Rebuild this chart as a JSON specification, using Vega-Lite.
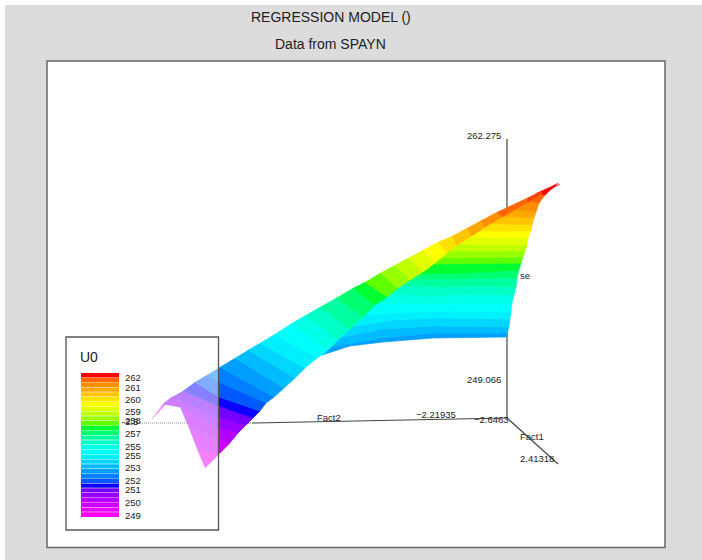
{"$schema":"https://vega.github.io/schema/vega-lite/v6.json","width":702,"height":560,"padding":0,"autosize":{"type":"fit","contains":"padding"},"background":"white","config":{"view":{"stroke":null}},
"encoding":{"x":{"field":"u","type":"quantitative","scale":{"domain":[0,702],"nice":false,"zero":false},"axis":null},"y":{"field":"v","type":"quantitative","scale":{"domain":[560,0],"nice":false,"zero":false},"axis":null}},
"layer":[
{"data":{"values":[{"u":5,"u2":702,"v":5,"v2":560}]},"mark":{"type":"rect","fill":"#dcdcdc"},"encoding":{"x2":{"field":"u2"},"y2":{"field":"v2"}}},
{"data":{"values":[{"u":47,"u2":665,"v":61,"v2":547.5}]},"mark":{"type":"rect","fill":"white","stroke":"#666666","strokeWidth":1.5},"encoding":{"x2":{"field":"u2"},"y2":{"field":"v2"}}},
{"data":{"values":[{"u":507,"u2":507,"v":139,"v2":418},{"u":507,"u2":253,"v":418,"v2":423},{"u":507,"u2":558,"v":418,"v2":464}]},"mark":{"type":"rule","stroke":"#444444","strokeWidth":1.2},"encoding":{"x2":{"field":"u2"},"y2":{"field":"v2"}}},
{"data":{"values":[{"u":253,"u2":122,"v":423,"v2":423}]},"mark":{"type":"rule","stroke":"#333333","strokeWidth":1,"strokeDash":[1,1]},"encoding":{"x2":{"field":"u2"},"y2":{"field":"v2"}}},
{"name":"sheet","data":{"values":[
{"b":"s9","level":253.03,"o":1,"u":322,"v":355},{"b":"s9","level":253.03,"o":2,"u":350,"v":346},{"b":"s9","level":253.03,"o":3,"u":383,"v":342},{"b":"s9","level":253.03,"o":4,"u":433,"v":338},{"b":"s9","level":253.03,"o":5,"u":507,"v":337},{"b":"s9","level":253.03,"o":6,"u":507,"v":333},{"b":"s9","level":253.03,"o":7,"u":433,"v":333},{"b":"s9","level":253.03,"o":8,"u":383,"v":338},{"b":"s9","level":253.03,"o":9,"u":330,"v":347},
{"b":"s10","level":253.48,"o":1,"u":330,"v":347},{"b":"s10","level":253.48,"o":2,"u":383,"v":338},{"b":"s10","level":253.48,"o":3,"u":433,"v":333},{"b":"s10","level":253.48,"o":4,"u":507,"v":333},{"b":"s10","level":253.48,"o":5,"u":509,"v":327},{"b":"s10","level":253.48,"o":6,"u":433,"v":326},{"b":"s10","level":253.48,"o":7,"u":383,"v":329},{"b":"s10","level":253.48,"o":8,"u":338,"v":338},
{"b":"s11","level":253.93,"o":1,"u":338,"v":338},{"b":"s11","level":253.93,"o":2,"u":383,"v":329},{"b":"s11","level":253.93,"o":3,"u":433,"v":326},{"b":"s11","level":253.93,"o":4,"u":509,"v":327},{"b":"s11","level":253.93,"o":5,"u":510,"v":319},{"b":"s11","level":253.93,"o":6,"u":440,"v":318},{"b":"s11","level":253.93,"o":7,"u":393,"v":320},{"b":"s11","level":253.93,"o":8,"u":350,"v":327},
{"b":"s12","level":254.38,"o":1,"u":350,"v":327},{"b":"s12","level":254.38,"o":2,"u":393,"v":320},{"b":"s12","level":254.38,"o":3,"u":440,"v":318},{"b":"s12","level":254.38,"o":4,"u":510,"v":319},{"b":"s12","level":254.38,"o":5,"u":511,"v":312},{"b":"s12","level":254.38,"o":6,"u":450,"v":311},{"b":"s12","level":254.38,"o":7,"u":407,"v":312},{"b":"s12","level":254.38,"o":8,"u":361,"v":315},
{"b":"s13","level":254.83,"o":1,"u":361,"v":315},{"b":"s13","level":254.83,"o":2,"u":407,"v":312},{"b":"s13","level":254.83,"o":3,"u":450,"v":311},{"b":"s13","level":254.83,"o":4,"u":511,"v":312},{"b":"s13","level":254.83,"o":5,"u":512,"v":303},{"b":"s13","level":254.83,"o":6,"u":460,"v":303},{"b":"s13","level":254.83,"o":7,"u":417,"v":304},{"b":"s13","level":254.83,"o":8,"u":374,"v":303},
{"b":"s14","level":255.27,"o":1,"u":374,"v":303},{"b":"s14","level":255.27,"o":2,"u":417,"v":304},{"b":"s14","level":255.27,"o":3,"u":460,"v":303},{"b":"s14","level":255.27,"o":4,"u":512,"v":303},{"b":"s14","level":255.27,"o":5,"u":514,"v":295},{"b":"s14","level":255.27,"o":6,"u":467,"v":294},{"b":"s14","level":255.27,"o":7,"u":427,"v":296},{"b":"s14","level":255.27,"o":8,"u":387,"v":293},
{"b":"s15","level":255.72,"o":1,"u":387,"v":293},{"b":"s15","level":255.72,"o":2,"u":427,"v":296},{"b":"s15","level":255.72,"o":3,"u":467,"v":294},{"b":"s15","level":255.72,"o":4,"u":514,"v":295},{"b":"s15","level":255.72,"o":5,"u":516,"v":287},{"b":"s15","level":255.72,"o":6,"u":477,"v":286},{"b":"s15","level":255.72,"o":7,"u":440,"v":287},{"b":"s15","level":255.72,"o":8,"u":400,"v":285},
{"b":"s16","level":256.17,"o":1,"u":400,"v":285},{"b":"s16","level":256.17,"o":2,"u":440,"v":287},{"b":"s16","level":256.17,"o":3,"u":477,"v":286},{"b":"s16","level":256.17,"o":4,"u":516,"v":287},{"b":"s16","level":256.17,"o":5,"u":517,"v":278},{"b":"s16","level":256.17,"o":6,"u":487,"v":278},{"b":"s16","level":256.17,"o":7,"u":450,"v":279},{"b":"s16","level":256.17,"o":8,"u":408,"v":279},
{"b":"s17","level":256.62,"o":1,"u":408,"v":279},{"b":"s17","level":256.62,"o":2,"u":450,"v":279},{"b":"s17","level":256.62,"o":3,"u":487,"v":278},{"b":"s17","level":256.62,"o":4,"u":517,"v":278},{"b":"s17","level":256.62,"o":5,"u":519,"v":270},{"b":"s17","level":256.62,"o":6,"u":467,"v":273},{"b":"s17","level":256.62,"o":7,"u":415,"v":274},
{"b":"s18","level":257.07,"o":1,"u":415,"v":274},{"b":"s18","level":257.07,"o":2,"u":467,"v":273},{"b":"s18","level":257.07,"o":3,"u":519,"v":270},{"b":"s18","level":257.07,"o":4,"u":521,"v":263},{"b":"s18","level":257.07,"o":5,"u":430,"v":264},
{"b":"s19","level":257.52,"o":1,"u":430,"v":264},{"b":"s19","level":257.52,"o":2,"u":521,"v":263},{"b":"s19","level":257.52,"o":3,"u":523,"v":257},{"b":"s19","level":257.52,"o":4,"u":436,"v":258},
{"b":"s20","level":257.97,"o":1,"u":436,"v":258},{"b":"s20","level":257.97,"o":2,"u":523,"v":257},{"b":"s20","level":257.97,"o":3,"u":525,"v":251},{"b":"s20","level":257.97,"o":4,"u":446,"v":251},
{"b":"s21","level":258.41,"o":1,"u":446,"v":251},{"b":"s21","level":258.41,"o":2,"u":525,"v":251},{"b":"s21","level":258.41,"o":3,"u":527,"v":245},{"b":"s21","level":258.41,"o":4,"u":455,"v":244},
{"b":"s22","level":258.86,"o":1,"u":455,"v":244},{"b":"s22","level":258.86,"o":2,"u":527,"v":245},{"b":"s22","level":258.86,"o":3,"u":528,"v":238},{"b":"s22","level":258.86,"o":4,"u":465,"v":237},
{"b":"s23","level":259.31,"o":1,"u":465,"v":237},{"b":"s23","level":259.31,"o":2,"u":528,"v":238},{"b":"s23","level":259.31,"o":3,"u":531,"v":231},{"b":"s23","level":259.31,"o":4,"u":475,"v":231},
{"b":"s24","level":259.76,"o":1,"u":475,"v":231},{"b":"s24","level":259.76,"o":2,"u":531,"v":231},{"b":"s24","level":259.76,"o":3,"u":532,"v":225},{"b":"s24","level":259.76,"o":4,"u":486,"v":223},
{"b":"s25","level":260.21,"o":1,"u":486,"v":223},{"b":"s25","level":260.21,"o":2,"u":532,"v":225},{"b":"s25","level":260.21,"o":3,"u":534,"v":218},{"b":"s25","level":260.21,"o":4,"u":498,"v":216},
{"b":"s26","level":260.66,"o":1,"u":498,"v":216},{"b":"s26","level":260.66,"o":2,"u":534,"v":218},{"b":"s26","level":260.66,"o":3,"u":536,"v":212},{"b":"s26","level":260.66,"o":4,"u":510,"v":209},
{"b":"s27","level":261.10,"o":1,"u":510,"v":209},{"b":"s27","level":261.10,"o":2,"u":536,"v":212},{"b":"s27","level":261.10,"o":3,"u":539,"v":203},{"b":"s27","level":261.10,"o":4,"u":525,"v":201},
{"b":"s28","level":261.55,"o":1,"u":525,"v":201},{"b":"s28","level":261.55,"o":2,"u":539,"v":203},{"b":"s28","level":261.55,"o":3,"u":545,"v":195},{"b":"s28","level":261.55,"o":4,"u":537,"v":193},
{"b":"s29","level":262.0,"o":1,"u":537,"v":193},{"b":"s29","level":262.0,"o":2,"u":545,"v":195},{"b":"s29","level":262.0,"o":3,"u":558,"v":183}
]},"mark":{"type":"line","filled":true,"strokeWidth":0.7,"interpolate":"linear"},"encoding":{"detail":{"field":"b"},"order":{"field":"o"},"fill":{"field":"level","type":"quantitative","scale":{"domain":[249,251.3,251.7,252.2,254.7,257.2,259.3,261.3,262],"range":["#ff00ff","#7000ff","#0000ff","#0060ff","#00ffff","#00ff00","#ffff00","#ff8000","#ff0000"]},"legend":null},"stroke":{"field":"level","type":"quantitative","scale":{"domain":[249,251.3,251.7,252.2,254.7,257.2,259.3,261.3,262],"range":["#ff00ff","#7000ff","#0000ff","#0060ff","#00ffff","#00ff00","#ffff00","#ff8000","#ff0000"]},"legend":null}}},
{"name":"strip","data":{"values":[
{"b":"e1","level":249.45,"o":1,"u":152,"v":419},{"b":"e1","level":249.45,"o":2,"u":172,"v":397},{"b":"e1","level":249.45,"o":3,"u":163,"v":404},
{"b":"t1","level":249.45,"o":1,"u":197,"v":449},{"b":"t1","level":249.45,"o":2,"u":219,"v":454},{"b":"t1","level":249.45,"o":3,"u":205,"v":468},
{"b":"t2","level":249.90,"o":1,"u":189,"v":428},{"b":"t2","level":249.90,"o":2,"u":219,"v":439},{"b":"t2","level":249.90,"o":3,"u":229,"v":444},{"b":"t2","level":249.90,"o":4,"u":219,"v":454},{"b":"t2","level":249.90,"o":5,"u":197,"v":449},
{"b":"t3","level":250.34,"o":1,"u":180,"v":407},{"b":"t3","level":250.34,"o":2,"u":219,"v":428},{"b":"t3","level":250.34,"o":3,"u":238,"v":433},{"b":"t3","level":250.34,"o":4,"u":229,"v":444},{"b":"t3","level":250.34,"o":5,"u":219,"v":439},{"b":"t3","level":250.34,"o":6,"u":189,"v":428},
{"b":"t4","level":250.79,"o":1,"u":172,"v":397},{"b":"t4","level":250.79,"o":2,"u":219,"v":417},{"b":"t4","level":250.79,"o":3,"u":246,"v":425},{"b":"t4","level":250.79,"o":4,"u":238,"v":433},{"b":"t4","level":250.79,"o":5,"u":219,"v":428},{"b":"t4","level":250.79,"o":6,"u":180,"v":407},{"b":"t4","level":250.79,"o":7,"u":163,"v":404},
{"b":"t5","level":251.24,"o":1,"u":183,"v":391},{"b":"t5","level":251.24,"o":2,"u":219,"v":406},{"b":"t5","level":251.24,"o":3,"u":253,"v":418},{"b":"t5","level":251.24,"o":4,"u":246,"v":425},{"b":"t5","level":251.24,"o":5,"u":219,"v":417},{"b":"t5","level":251.24,"o":6,"u":172,"v":397},
{"b":"t6","level":251.69,"o":1,"u":183,"v":391},{"b":"t6","level":251.69,"o":2,"u":219,"v":406},{"b":"t6","level":251.69,"o":3,"u":253,"v":418},{"b":"t6","level":251.69,"o":4,"u":260,"v":411},{"b":"t6","level":251.69,"o":5,"u":219,"v":397},{"b":"t6","level":251.69,"o":6,"u":195,"v":382},
{"b":"t7","level":252.14,"o":1,"u":195,"v":382},{"b":"t7","level":252.14,"o":2,"u":219,"v":397},{"b":"t7","level":252.14,"o":3,"u":260,"v":411},{"b":"t7","level":252.14,"o":4,"u":266,"v":403},{"b":"t7","level":252.14,"o":5,"u":219,"v":382},{"b":"t7","level":252.14,"o":6,"u":207,"v":375},
{"b":"t8","level":252.59,"o":1,"u":207,"v":375},{"b":"t8","level":252.59,"o":2,"u":219,"v":382},{"b":"t8","level":252.59,"o":3,"u":266,"v":403},{"b":"t8","level":252.59,"o":4,"u":274,"v":397},{"b":"t8","level":252.59,"o":5,"u":220,"v":367},
{"b":"t9","level":253.03,"o":1,"u":220,"v":367},{"b":"t9","level":253.03,"o":2,"u":274,"v":397},{"b":"t9","level":253.03,"o":3,"u":284,"v":388},{"b":"t9","level":253.03,"o":4,"u":235,"v":358},
{"b":"t10","level":253.48,"o":1,"u":235,"v":358},{"b":"t10","level":253.48,"o":2,"u":284,"v":388},{"b":"t10","level":253.48,"o":3,"u":295,"v":378},{"b":"t10","level":253.48,"o":4,"u":248,"v":350},
{"b":"t11","level":253.93,"o":1,"u":248,"v":350},{"b":"t11","level":253.93,"o":2,"u":295,"v":378},{"b":"t11","level":253.93,"o":3,"u":305,"v":368},{"b":"t11","level":253.93,"o":4,"u":260,"v":343},
{"b":"t12","level":254.38,"o":1,"u":260,"v":343},{"b":"t12","level":254.38,"o":2,"u":305,"v":368},{"b":"t12","level":254.38,"o":3,"u":317,"v":358},{"b":"t12","level":254.38,"o":4,"u":275,"v":334},
{"b":"t13","level":254.83,"o":1,"u":275,"v":334},{"b":"t13","level":254.83,"o":2,"u":317,"v":358},{"b":"t13","level":254.83,"o":3,"u":322,"v":355},{"b":"t13","level":254.83,"o":4,"u":328,"v":350},{"b":"t13","level":254.83,"o":5,"u":292,"v":323},
{"b":"t14","level":255.27,"o":1,"u":292,"v":323},{"b":"t14","level":255.27,"o":2,"u":328,"v":350},{"b":"t14","level":255.27,"o":3,"u":338,"v":340},{"b":"t14","level":255.27,"o":4,"u":306,"v":315},
{"b":"t15","level":255.72,"o":1,"u":306,"v":315},{"b":"t15","level":255.72,"o":2,"u":338,"v":340},{"b":"t15","level":255.72,"o":3,"u":350,"v":329},{"b":"t15","level":255.72,"o":4,"u":320,"v":307},
{"b":"t16","level":256.17,"o":1,"u":320,"v":307},{"b":"t16","level":256.17,"o":2,"u":350,"v":329},{"b":"t16","level":256.17,"o":3,"u":363,"v":317},{"b":"t16","level":256.17,"o":4,"u":336,"v":298},
{"b":"t17","level":256.62,"o":1,"u":336,"v":298},{"b":"t17","level":256.62,"o":2,"u":363,"v":317},{"b":"t17","level":256.62,"o":3,"u":375,"v":305},{"b":"t17","level":256.62,"o":4,"u":353,"v":288},
{"b":"t18","level":257.07,"o":1,"u":353,"v":288},{"b":"t18","level":257.07,"o":2,"u":375,"v":305},{"b":"t18","level":257.07,"o":3,"u":387,"v":297},{"b":"t18","level":257.07,"o":4,"u":365,"v":282},
{"b":"t19","level":257.52,"o":1,"u":365,"v":282},{"b":"t19","level":257.52,"o":2,"u":387,"v":297},{"b":"t19","level":257.52,"o":3,"u":398,"v":288},{"b":"t19","level":257.52,"o":4,"u":380,"v":273},
{"b":"t20","level":257.97,"o":1,"u":380,"v":273},{"b":"t20","level":257.97,"o":2,"u":398,"v":288},{"b":"t20","level":257.97,"o":3,"u":410,"v":280},{"b":"t20","level":257.97,"o":4,"u":395,"v":265},
{"b":"t21","level":258.41,"o":1,"u":395,"v":265},{"b":"t21","level":258.41,"o":2,"u":410,"v":280},{"b":"t21","level":258.41,"o":3,"u":423,"v":272},{"b":"t21","level":258.41,"o":4,"u":408,"v":258},
{"b":"t22","level":258.86,"o":1,"u":408,"v":258},{"b":"t22","level":258.86,"o":2,"u":423,"v":272},{"b":"t22","level":258.86,"o":3,"u":435,"v":263},{"b":"t22","level":258.86,"o":4,"u":423,"v":250},
{"b":"t23","level":259.31,"o":1,"u":423,"v":250},{"b":"t23","level":259.31,"o":2,"u":435,"v":263},{"b":"t23","level":259.31,"o":3,"u":447,"v":253},{"b":"t23","level":259.31,"o":4,"u":438,"v":242},
{"b":"t24","level":259.76,"o":1,"u":438,"v":242},{"b":"t24","level":259.76,"o":2,"u":447,"v":253},{"b":"t24","level":259.76,"o":3,"u":457,"v":245},{"b":"t24","level":259.76,"o":4,"u":452,"v":236},
{"b":"t25","level":260.21,"o":1,"u":452,"v":236},{"b":"t25","level":260.21,"o":2,"u":457,"v":245},{"b":"t25","level":260.21,"o":3,"u":472,"v":236},{"b":"t25","level":260.21,"o":4,"u":467,"v":228},
{"b":"t26","level":260.66,"o":1,"u":467,"v":228},{"b":"t26","level":260.66,"o":2,"u":472,"v":236},{"b":"t26","level":260.66,"o":3,"u":485,"v":227},{"b":"t26","level":260.66,"o":4,"u":480,"v":221},
{"b":"t27","level":261.10,"o":1,"u":480,"v":221},{"b":"t27","level":261.10,"o":2,"u":485,"v":227},{"b":"t27","level":261.10,"o":3,"u":502,"v":217},{"b":"t27","level":261.10,"o":4,"u":497,"v":212},
{"b":"t28","level":261.55,"o":1,"u":497,"v":212},{"b":"t28","level":261.55,"o":2,"u":502,"v":217},{"b":"t28","level":261.55,"o":3,"u":528,"v":202},{"b":"t28","level":261.55,"o":4,"u":527,"v":198},
{"b":"t29","level":261.8,"o":1,"u":527,"v":198},{"b":"t29","level":261.8,"o":2,"u":528,"v":202},{"b":"t29","level":261.8,"o":3,"u":543,"v":193},{"b":"t29","level":261.8,"o":4,"u":541,"v":191},
{"b":"t30","level":262.0,"o":1,"u":541,"v":191},{"b":"t30","level":262.0,"o":2,"u":543,"v":193},{"b":"t30","level":262.0,"o":3,"u":560,"v":184}
]},"mark":{"type":"line","filled":true,"strokeWidth":0.7,"interpolate":"linear"},"encoding":{"detail":{"field":"b"},"order":{"field":"o"},"fill":{"field":"level","type":"quantitative","scale":{"domain":[249,251.3,251.7,252.2,254.7,257.2,259.3,261.3,262],"range":["#ff00ff","#7000ff","#0000ff","#0060ff","#00ffff","#00ff00","#ffff00","#ff8000","#ff0000"]},"legend":null},"stroke":{"field":"level","type":"quantitative","scale":{"domain":[249,251.3,251.7,252.2,254.7,257.2,259.3,261.3,262],"range":["#ff00ff","#7000ff","#0000ff","#0060ff","#00ffff","#00ff00","#ffff00","#ff8000","#ff0000"]},"legend":null}}},
{"data":{"values":[{"u":66,"u2":218.5,"v":337,"v2":530}]},"mark":{"type":"rect","fill":"white","fillOpacity":0.5,"stroke":"#555555","strokeWidth":1.3},"encoding":{"x2":{"field":"u2"},"y2":{"field":"v2"}}},
{"data":{"values":[
{"level":262.0,"u":81,"u2":119,"v":373,"v2":377.4},{"level":261.55,"u":81,"u2":119,"v":377.8,"v2":382.2},{"level":261.10,"u":81,"u2":119,"v":382.6,"v2":387},{"level":260.66,"u":81,"u2":119,"v":387.4,"v2":391.8},{"level":260.21,"u":81,"u2":119,"v":392.2,"v2":396.6},{"level":259.76,"u":81,"u2":119,"v":397,"v2":401.4},{"level":259.31,"u":81,"u2":119,"v":401.8,"v2":406.2},{"level":258.86,"u":81,"u2":119,"v":406.6,"v2":411},{"level":258.41,"u":81,"u2":119,"v":411.4,"v2":415.8},{"level":257.97,"u":81,"u2":119,"v":416.2,"v2":420.6},{"level":257.52,"u":81,"u2":119,"v":421,"v2":425.4},{"level":257.07,"u":81,"u2":119,"v":425.8,"v2":430.2},{"level":256.62,"u":81,"u2":119,"v":430.6,"v2":435},{"level":256.17,"u":81,"u2":119,"v":435.4,"v2":439.8},{"level":255.72,"u":81,"u2":119,"v":440.2,"v2":444.6},{"level":255.27,"u":81,"u2":119,"v":445,"v2":449.4},{"level":254.83,"u":81,"u2":119,"v":449.8,"v2":454.2},{"level":254.38,"u":81,"u2":119,"v":454.6,"v2":459},{"level":253.93,"u":81,"u2":119,"v":459.4,"v2":463.8},{"level":253.48,"u":81,"u2":119,"v":464.2,"v2":468.6},{"level":253.03,"u":81,"u2":119,"v":469,"v2":473.4},{"level":252.59,"u":81,"u2":119,"v":473.8,"v2":478.2},{"level":252.14,"u":81,"u2":119,"v":478.6,"v2":483},{"level":251.69,"u":81,"u2":119,"v":483.4,"v2":487.8},{"level":251.24,"u":81,"u2":119,"v":488.2,"v2":492.6},{"level":250.79,"u":81,"u2":119,"v":493,"v2":497.4},{"level":250.34,"u":81,"u2":119,"v":497.8,"v2":502.2},{"level":249.90,"u":81,"u2":119,"v":502.6,"v2":507},{"level":249.45,"u":81,"u2":119,"v":507.4,"v2":511.8},{"level":249.0,"u":81,"u2":119,"v":512.2,"v2":517}
]},"mark":{"type":"rect"},"encoding":{"x2":{"field":"u2"},"y2":{"field":"v2"},"fill":{"field":"level","type":"quantitative","scale":{"domain":[249,251.3,251.7,252.2,254.7,257.2,259.3,261.3,262],"range":["#ff00ff","#7000ff","#0000ff","#0060ff","#00ffff","#00ff00","#ffff00","#ff8000","#ff0000"]},"legend":null}}},
{"data":{"values":[{"u":251,"v":18,"t":"REGRESSION MODEL ()"},{"u":275,"v":45,"t":"Data from SPAYN"},{"u":80,"v":358,"t":"U0"}]},"mark":{"type":"text","font":"Liberation Sans","fontSize":14,"align":"left","baseline":"middle","fill":"#222222"},"encoding":{"text":{"field":"t"}}},
{"data":{"values":[{"u":125,"v":378,"t":"262"},{"u":125,"v":387.5,"t":"261"},{"u":125,"v":400,"t":"260"},{"u":125,"v":412,"t":"259"},{"u":125,"v":421,"t":"258"},{"u":122,"v":422,"t":"-2.5"},{"u":125,"v":434,"t":"257"},{"u":125,"v":447,"t":"255"},{"u":125,"v":456,"t":"255"},{"u":125,"v":468,"t":"253"},{"u":125,"v":481,"t":"252"},{"u":125,"v":490,"t":"251"},{"u":125,"v":503,"t":"250"},{"u":125,"v":516,"t":"249"},{"u":467,"v":136,"t":"262.275"},{"u":467,"v":380,"t":"249.066"},{"u":520,"v":276,"t":"se"},{"u":317,"v":418,"t":"Fact2"},{"u":416,"v":415,"t":"−2.21935"},{"u":474,"v":420,"t":"−2.6463"},{"u":520,"v":437,"t":"Fact1"},{"u":520,"v":459,"t":"2.41318"}]},"mark":{"type":"text","font":"Liberation Sans","fontSize":9.5,"align":"left","baseline":"middle","fill":"#222222"},"encoding":{"text":{"field":"t"}}}
]}
